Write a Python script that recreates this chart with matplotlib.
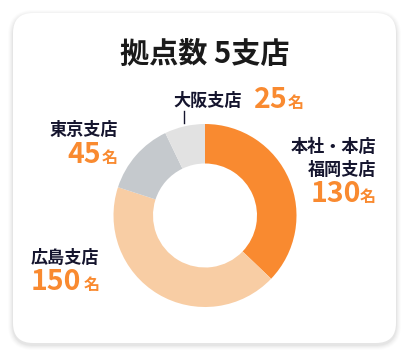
import matplotlib.pyplot as plt
from matplotlib.patches import FancyBboxPatch

plt.rcParams['font.family'] = ['Noto Sans CJK JP', 'DejaVu Sans']

# data
branches = ["本社・本店\n福岡支店", "広島支店", "東京支店", "大阪支店"]
staff = [130, 150, 45, 25]
colors = ["#F98A30", "#F8CDA4", "#C5C9CD", "#E2E2E2"]
title = "拠点数 5支店"

W, H = 410, 356
navy = "#15152E"
orange = "#F98A30"

fig = plt.figure(figsize=(W / 100, H / 100), dpi=100)
fig.patch.set_facecolor("white")
ax = fig.add_axes([0, 0, 1, 1])


def py(y):
    # pixel y (from top) -> data y
    return H - y


# card with soft shadow
for i, a in enumerate([0.012, 0.015, 0.02, 0.025, 0.03]):
    pad = 10 - i * 2
    ax.add_patch(FancyBboxPatch((13 - pad / 2, py(343) - pad / 2 - 2), 383 + pad, 330 + pad,
                                boxstyle="round,pad=0,rounding_size=%d" % (20 + pad / 2),
                                fc="black", ec="none", alpha=a, zorder=0))
ax.add_patch(FancyBboxPatch((13, py(343)), 383, 330,
                            boxstyle="round,pad=0,rounding_size=20",
                            fc="white", ec="none", zorder=1))

# donut
ax.pie(staff, colors=colors, startangle=90, counterclock=False,
       center=(205, py(215.5)), radius=91.5,
       wedgeprops=dict(width=39.5, edgecolor="none", zorder=2))

ax.set_xlim(0, W)
ax.set_ylim(0, H)
ax.set_aspect("auto")
ax.set_axis_off()

# title
ax.text(205, py(53.7), title, ha="center", va="center", fontsize=21,
        fontweight="bold", color="#1A1A1A")

lab = dict(fontsize=12.3, fontweight="bold", color=navy, va="center")
num = dict(fontsize=20.5, fontweight="bold", color=orange, va="baseline")
mei = dict(fontsize=11.5, fontweight="bold", color=orange, va="baseline")

# 大阪支店
ax.text(173, py(101), branches[3], ha="left", **lab)
ax.text(288, py(108), str(staff[3]), ha="right", **num)
ax.text(304, py(108), "名", ha="right", **mei)
ax.plot([184, 184], [py(111), py(123)], color=navy, lw=1, zorder=3)

# 東京支店
ax.text(118, py(130), branches[2], ha="right", **lab)
ax.text(101, py(163), str(staff[2]), ha="right", **num)
ax.text(118, py(163), "名", ha="right", **mei)

# 本社・本店 / 福岡支店
line1, line2 = branches[0].split("\n")
ax.text(376, py(147), line1, ha="right", **lab)
ax.text(376, py(169.5), line2, ha="right", **lab)
ax.text(361, py(202), str(staff[0]), ha="right", **num)
ax.text(376, py(202), "名", ha="right", **mei)

# 広島支店
ax.text(31, py(257.5), branches[1], ha="left", **lab)
ax.text(31, py(290), str(staff[1]), ha="left", **num)
ax.text(100, py(290), "名", ha="right", **mei)

fig.savefig("out.png", dpi=100, facecolor=fig.get_facecolor())
